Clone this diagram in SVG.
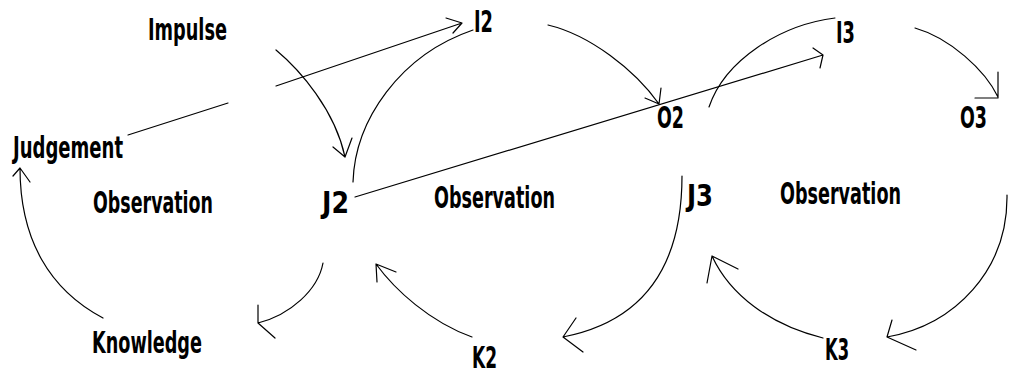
<svg xmlns="http://www.w3.org/2000/svg" width="1010" height="374" viewBox="0 0 1010 374">
<style>
.t{font-family:"Liberation Sans Narrow","DejaVu Sans Condensed","Liberation Sans",sans-serif;font-weight:bold;font-size:31px;fill:#000}
.c{fill:none;stroke:#000;stroke-width:1.2;stroke-linecap:round;stroke-linejoin:round}
</style>
<rect width="1010" height="374" fill="#fff"/>
<g id="connectors">
<path class="c" d="M128,135 L228,103 M276,86 L462,23 M446,18 L462,23 L453,33"/>
<path class="c" d="M276,50 C300,70 335,110 345,157 M333,147 L345,157 L352,138"/>
<path class="c" d="M353,182 C355,120 400,55 473,30"/>
<path class="c" d="M548,25 C590,35 635,70 659,104 M645,98 L659,104 L661,88"/>
<path class="c" d="M355,197 L823,55 M813,48 L823,55 L820,68"/>
<path class="c" d="M709,107 C725,60 780,25 835,18"/>
<path class="c" d="M915,28 C950,38 985,70 998,97 M998,72 L998,98 L975,98"/>
<path class="c" d="M323,263 C318,290 290,315 258,323 M258,305 L258,323 L275,338"/>
<path class="c" d="M103,318 C50,290 20,240 20,168 M13,176 L20,168 L30,182"/>
<path class="c" d="M472,337 C430,322 395,290 376,264 M396,272 L376,264 L377,282"/>
<path class="c" d="M682,176 C682,270 640,322 563,337 M576,318 L563,337 L583,352"/>
<path class="c" d="M1007,195 C1008,270 955,325 887,337 M892,320 L887,337 L916,350"/>
<path class="c" d="M823,338 C770,325 730,295 712,256 M738,269 L712,256 L707,283"/>
</g>
<g id="impulse"><text class="t" x="148" y="40" textLength="79" lengthAdjust="spacingAndGlyphs">Impulse</text></g>
<g id="judgement"><text class="t" x="13" y="158" textLength="110" lengthAdjust="spacingAndGlyphs">Judgement</text></g>
<g id="i2"><text class="t" x="474" y="32" textLength="19" lengthAdjust="spacingAndGlyphs">I2</text></g>
<g id="o2"><text class="t" x="657" y="128" textLength="27" lengthAdjust="spacingAndGlyphs">O2</text></g>
<g id="i3"><text class="t" x="836" y="43" textLength="19" lengthAdjust="spacingAndGlyphs">I3</text></g>
<g id="o3"><text class="t" x="960" y="128" textLength="27" lengthAdjust="spacingAndGlyphs">O3</text></g>
<g id="observation1"><text class="t" x="93" y="213" textLength="120" lengthAdjust="spacingAndGlyphs">Observation</text></g>
<g id="j2"><text class="t" x="322" y="213" textLength="27" lengthAdjust="spacingAndGlyphs">J2</text></g>
<g id="observation2"><text class="t" x="434" y="208" textLength="121" lengthAdjust="spacingAndGlyphs">Observation</text></g>
<g id="j3"><text class="t" x="687" y="206" textLength="26" lengthAdjust="spacingAndGlyphs">J3</text></g>
<g id="observation3"><text class="t" x="780" y="204" textLength="121" lengthAdjust="spacingAndGlyphs">Observation</text></g>
<g id="knowledge"><text class="t" x="92" y="353" textLength="110" lengthAdjust="spacingAndGlyphs">Knowledge</text></g>
<g id="k2"><text class="t" x="472" y="368" textLength="25" lengthAdjust="spacingAndGlyphs">K2</text></g>
<g id="k3"><text class="t" x="825" y="360" textLength="24" lengthAdjust="spacingAndGlyphs">K3</text></g>
</svg>
